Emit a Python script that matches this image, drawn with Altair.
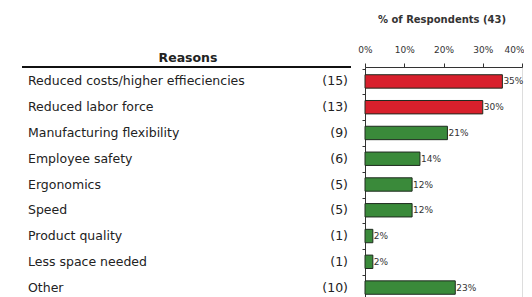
import altair as alt
import pandas as pd

reasons = ["Reduced costs/higher effieciencies", "Reduced labor force", "Manufacturing flexibility",
           "Employee safety", "Ergonomics", "Speed", "Product quality", "Less space needed", "Other"]
counts = [15, 13, 9, 6, 5, 5, 1, 1, 10]
pcts = [35, 30, 21, 14, 12, 12, 2, 2, 23]
groups = ["top", "top", "rest", "rest", "rest", "rest", "rest", "rest", "rest"]
ticks = [0, 10, 20, 30, 40]

df = pd.DataFrame({
    "reason": reasons,
    "count": [f"({c})" for c in counts],
    "pct": pcts,
    "pct_label": [f"{p}%" for p in pcts],
    "group": groups,
})

FONT = "DejaVu Sans"
ysc = alt.Scale(paddingInner=0.48, paddingOuter=0.3, range=[0, 235])
xsc = alt.Scale(domain=[0, 40], nice=False)
y_enc = alt.Y("reason:N", sort=reasons, scale=ysc,
              axis=alt.Axis(labels=False, title=None, domainColor="#333", tickColor="#333",
                            tickSize=3, bandPosition=0, tickOffset=-6, domainWidth=1))
x_enc = alt.X("pct:Q", scale=xsc,
              axis=alt.Axis(orient="top", values=ticks, labelExpr="datum.value + '%'",
                            title=None, grid=False, labelFont=FONT, labelFontSize=9,
                            labelColor="#333", tickColor="#333", domainColor="#333",
                            tickSize=4, labelPadding=9, labelFlush=False, labelOverlap=False,
                            labelAlign=alt.expr("datum.value >= 40 ? 'right' : 'center'"),
                            labelOffset=alt.expr("datum.value >= 40 ? 2 : 0")))

base = alt.Chart(df)

bars = base.mark_bar(stroke="#1e2a1e", strokeWidth=1).encode(
    x=x_enc, y=y_enc,
    color=alt.Color("group:N", scale=alt.Scale(domain=["top", "rest"], range=["#d8202c", "#3a8a3a"]),
                    legend=None),
)

pct_text = base.mark_text(align="left", baseline="middle", dx=1, font=FONT, fontSize=9,
                          color="#333").encode(x=x_enc, y=y_enc, text="pct_label:N")

reason_text = base.mark_text(align="left", baseline="middle", font=FONT, fontSize=12.5,
                             color="#222").encode(
    x=alt.value(-337), y=y_enc, text="reason:N")

count_text = base.mark_text(align="right", baseline="middle", font=FONT, fontSize=12.5,
                            color="#222").encode(
    x=alt.value(-17), y=y_enc, text="count:N")

hdr = pd.DataFrame({"t": ["Reasons"]})
header = alt.Chart(hdr).mark_text(align="center", baseline="alphabetic", font=FONT, fontSize=12.5,
                                  fontWeight="bold", color="#222").encode(
    x=alt.value(-177), y=alt.value(-5), text="t:N")

rule = alt.Chart(hdr).mark_rule(color="#111", strokeWidth=2).encode(
    x=alt.value(-343), x2=alt.value(-14), y=alt.value(0))

ttl = pd.DataFrame({"t": ["% of Respondents (43)"]})
title = alt.Chart(ttl).mark_text(align="center", baseline="middle", font=FONT, fontSize=10,
                                 fontWeight="bold", color="#333").encode(
    x=alt.value(77), y=alt.value(-47), text="t:N")

chart = alt.layer(bars, pct_text, reason_text, count_text, header, rule, title).properties(
    width=157, height=230,
    autosize=alt.AutoSizeParams(type="none"),
    padding={"left": 357, "top": 59, "right": 2, "bottom": 0},
).configure_view(strokeWidth=0).configure(background="white")

chart.save("out.html", embed_options={"renderer": "svg", "actions": False})
